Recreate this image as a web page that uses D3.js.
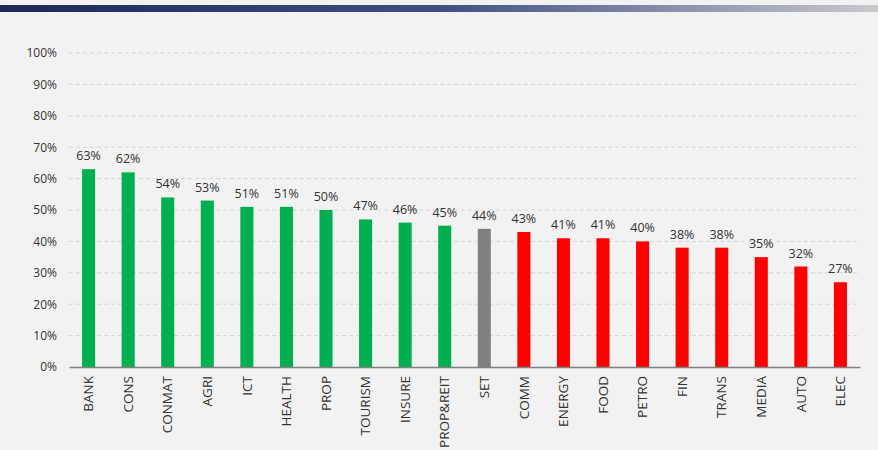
<!DOCTYPE html>
<html lang="en">
<head>
    <meta charset="UTF-8">
    <title>Sector bar chart</title>
    <script src="https://d3js.org/d3.v7.min.js"></script>
    <style>
        body { margin: 0; background: #f2f2f2; }
    </style>
</head>
<body>
    <div id="chart"></div>
    <script>
        // Data
        const categories = ["BANK", "CONS", "CONMAT", "AGRI", "ICT", "HEALTH", "PROP", "TOURISM", "INSURE", "PROP&REIT",
            "SET", "COMM", "ENERGY", "FOOD", "PETRO", "FIN", "TRANS", "MEDIA", "AUTO", "ELEC"];
        const values = [63, 62, 54, 53, 51, 51, 50, 47, 46, 45, 44, 43, 41, 41, 40, 38, 38, 35, 32, 27];
        const groups = ["above", "above", "above", "above", "above", "above", "above", "above", "above", "above",
            "market", "below", "below", "below", "below", "below", "below", "below", "below", "below"];
        const yTicks = [0, 10, 20, 30, 40, 50, 60, 70, 80, 90, 100];

        const width = 878;
        const height = 450;
        const margin = { top: 53, right: 18, bottom: 83, left: 69 };

        const colour = { above: "#00b050", market: "#808080", below: "#ff0000" };

        const svg = d3.select("#chart")
            .append("svg")
            .attr("width", width)
            .attr("height", height)
            .style("font-family", "'Open Sans', sans-serif");

        svg.append("rect")
            .attr("width", width)
            .attr("height", height)
            .attr("fill", "#f2f2f2");

        // Header gradient strip
        const grad = svg.append("defs").append("linearGradient")
            .attr("id", "topbar");
        grad.append("stop").attr("offset", "0%").attr("stop-color", "#1e2756");
        grad.append("stop").attr("offset", "50%").attr("stop-color", "#414f80");
        grad.append("stop").attr("offset", "100%").attr("stop-color", "#c9c9cd");
        svg.append("rect")
            .attr("x", 0).attr("y", 5)
            .attr("width", width).attr("height", 7)
            .attr("fill", "url(#topbar)");

        const x = d3.scaleBand()
            .domain(categories)
            .range([margin.left, width - margin.right])
            .paddingInner(0.67)
            .paddingOuter(0.33);

        const y = d3.scaleLinear()
            .domain([0, 100])
            .range([height - margin.bottom, margin.top]);

        // Gridlines
        svg.append("g")
            .selectAll("line")
            .data(yTicks.filter(d => d > 0))
            .join("line")
            .attr("x1", margin.left)
            .attr("x2", width - margin.right)
            .attr("y1", d => y(d))
            .attr("y2", d => y(d))
            .attr("stroke", "#d4d4d4")
            .attr("stroke-width", 1)
            .attr("stroke-dasharray", "4,3");

        // Y axis labels
        const yAxis = svg.append("g")
            .attr("transform", `translate(${margin.left},0)`)
            .call(d3.axisLeft(y).tickValues(yTicks).tickSize(0).tickPadding(12).tickFormat(d => d + "%"));
        yAxis.select(".domain").remove();
        yAxis.selectAll("text")
            .attr("font-size", 12)
            .attr("font-family", "'Open Sans', sans-serif")
            .attr("fill", "#333");

        // Bars
        svg.append("g")
            .selectAll("rect")
            .data(categories)
            .join("rect")
            .attr("x", d => x(d))
            .attr("y", (d, i) => y(values[i]))
            .attr("width", x.bandwidth())
            .attr("height", (d, i) => y(0) - y(values[i]))
            .attr("fill", (d, i) => colour[groups[i]]);

        // Value labels
        svg.append("g")
            .selectAll("text")
            .data(categories)
            .join("text")
            .attr("x", d => x(d) + x.bandwidth() / 2)
            .attr("y", (d, i) => y(values[i]) - 9)
            .attr("text-anchor", "middle")
            .attr("font-size", 12.5)
            .attr("fill", "#333")
            .text((d, i) => values[i] + "%");

        // X axis
        const xAxis = svg.append("g")
            .attr("transform", `translate(0,${y(0)})`)
            .call(d3.axisBottom(x).tickSize(0).tickSizeOuter(0));
        xAxis.select(".domain")
            .attr("stroke", "#808080")
            .attr("stroke-width", 1.5);
        xAxis.selectAll("text")
            .attr("font-size", 13.5)
            .attr("font-family", "'Open Sans', sans-serif")
            .attr("fill", "#333")
            .attr("text-anchor", "end")
            .attr("transform", "rotate(-90)")
            .attr("x", -9)
            .attr("y", 0)
            .attr("dy", "0.35em");
    </script>
</body>
</html>
